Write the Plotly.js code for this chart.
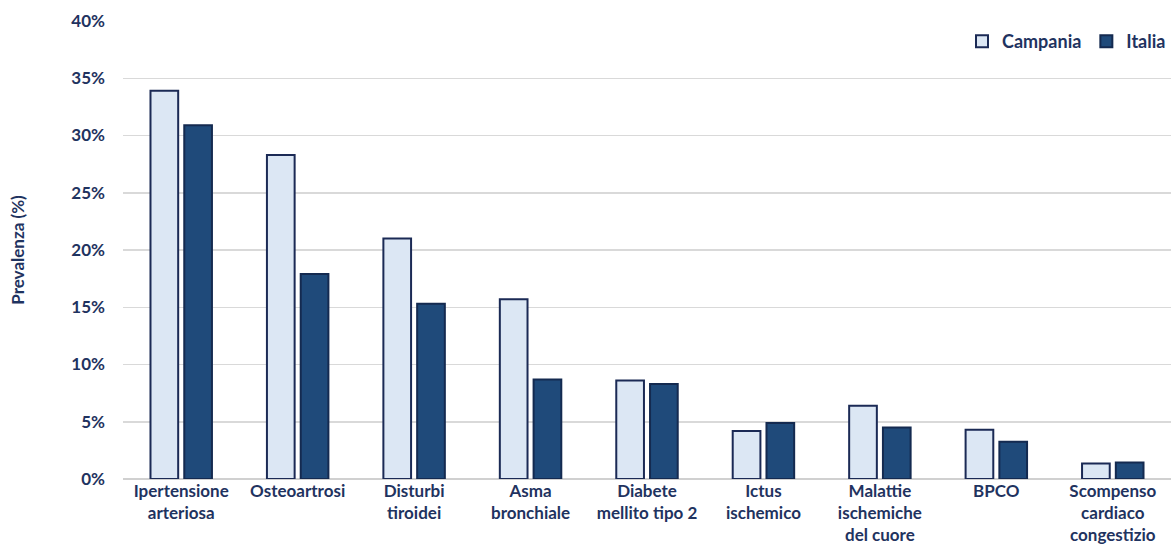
<!DOCTYPE html>
<html>
<head>
<meta charset="utf-8">
<script src="https://cdn.plot.ly/plotly-3.0.1.min.js"></script>
<style>html,body{margin:0;padding:0;background:#fff;}#chart{width:1171px;height:556px;}</style>
</head>
<body>
<div id="chart"></div>
<script>
const categories = [
  "Ipertensione<br>arteriosa",
  "Osteoartrosi",
  "Disturbi<br>tiroidei",
  "Asma<br>bronchiale",
  "Diabete<br>mellito tipo 2",
  "Ictus<br>ischemico",
  "Malattie<br>ischemiche<br>del cuore",
  "BPCO",
  "Scompenso<br>cardiaco<br>congestizio"
];
const campania = [0.339, 0.283, 0.210, 0.157, 0.086, 0.042, 0.064, 0.043, 0.0135];
const italia   = [0.309, 0.179, 0.153, 0.087, 0.083, 0.049, 0.045, 0.0325, 0.0145];
const yTickVals = [0, 0.05, 0.10, 0.15, 0.20, 0.25, 0.30, 0.35, 0.40];
const yTickText = ["0%", "5%", "10%", "15%", "20%", "25%", "30%", "35%", "40%"];

const navy = "#1f3360";
const fontFam = "Lato, 'Open Sans', sans-serif";
const x = categories.map((c, i) => i);

const traces = [
  {type: "bar", name: "Campania", x: x, y: campania,
   marker: {color: "#dce7f4", line: {color: "#1b2a55", width: 2}}, hoverinfo: "y"},
  {type: "bar", name: "Italia", x: x, y: italia,
   marker: {color: "#1f4a7a", line: {color: "#142a50", width: 2}}, hoverinfo: "y"}
];

const layout = {
  width: 1171, height: 556,
  margin: {l: 123, r: 0, t: 21, b: 77},
  paper_bgcolor: "#fff", plot_bgcolor: "#fff",
  barmode: "group", bargap: 0.42, bargroupgap: 0.18,
  font: {family: fontFam, color: navy, size: 16, weight: "bold"},
  showlegend: true,
  legend: {orientation: "h", x: 1, xanchor: "right", y: 0.955, yanchor: "middle",
           font: {size: 18, color: navy, family: fontFam, weight: "bold"},
           itemwidth: 30, traceorder: "normal", bgcolor: "rgba(0,0,0,0)"},
  xaxis: {range: [-0.5, 8.5], tickvals: x, ticktext: categories, ticks: "",
          showgrid: false, zeroline: false, showline: false, fixedrange: true,
          tickfont: {size: 17, color: navy, family: fontFam, weight: "bold"}, automargin: false},
  yaxis: {range: [0, 0.4], tickvals: yTickVals, ticktext: yTickText, ticks: "",
          showgrid: true, gridcolor: "#d9d9d9", gridwidth: 1.5, zeroline: true,
          zerolinecolor: "#d0d0d0", zerolinewidth: 1.5, showline: false,
          ticklabelstandoff: 17, automargin: false,
          tickfont: {size: 17, color: navy, family: fontFam, weight: "bold"},
          title: {text: "Prevalenza (%)", standoff: 42, font: {size: 17, color: navy, family: fontFam, weight: "bold"}}}
};

Plotly.newPlot("chart", traces, layout, {displayModeBar: false, staticPlot: true});
</script>
</body>
</html>
